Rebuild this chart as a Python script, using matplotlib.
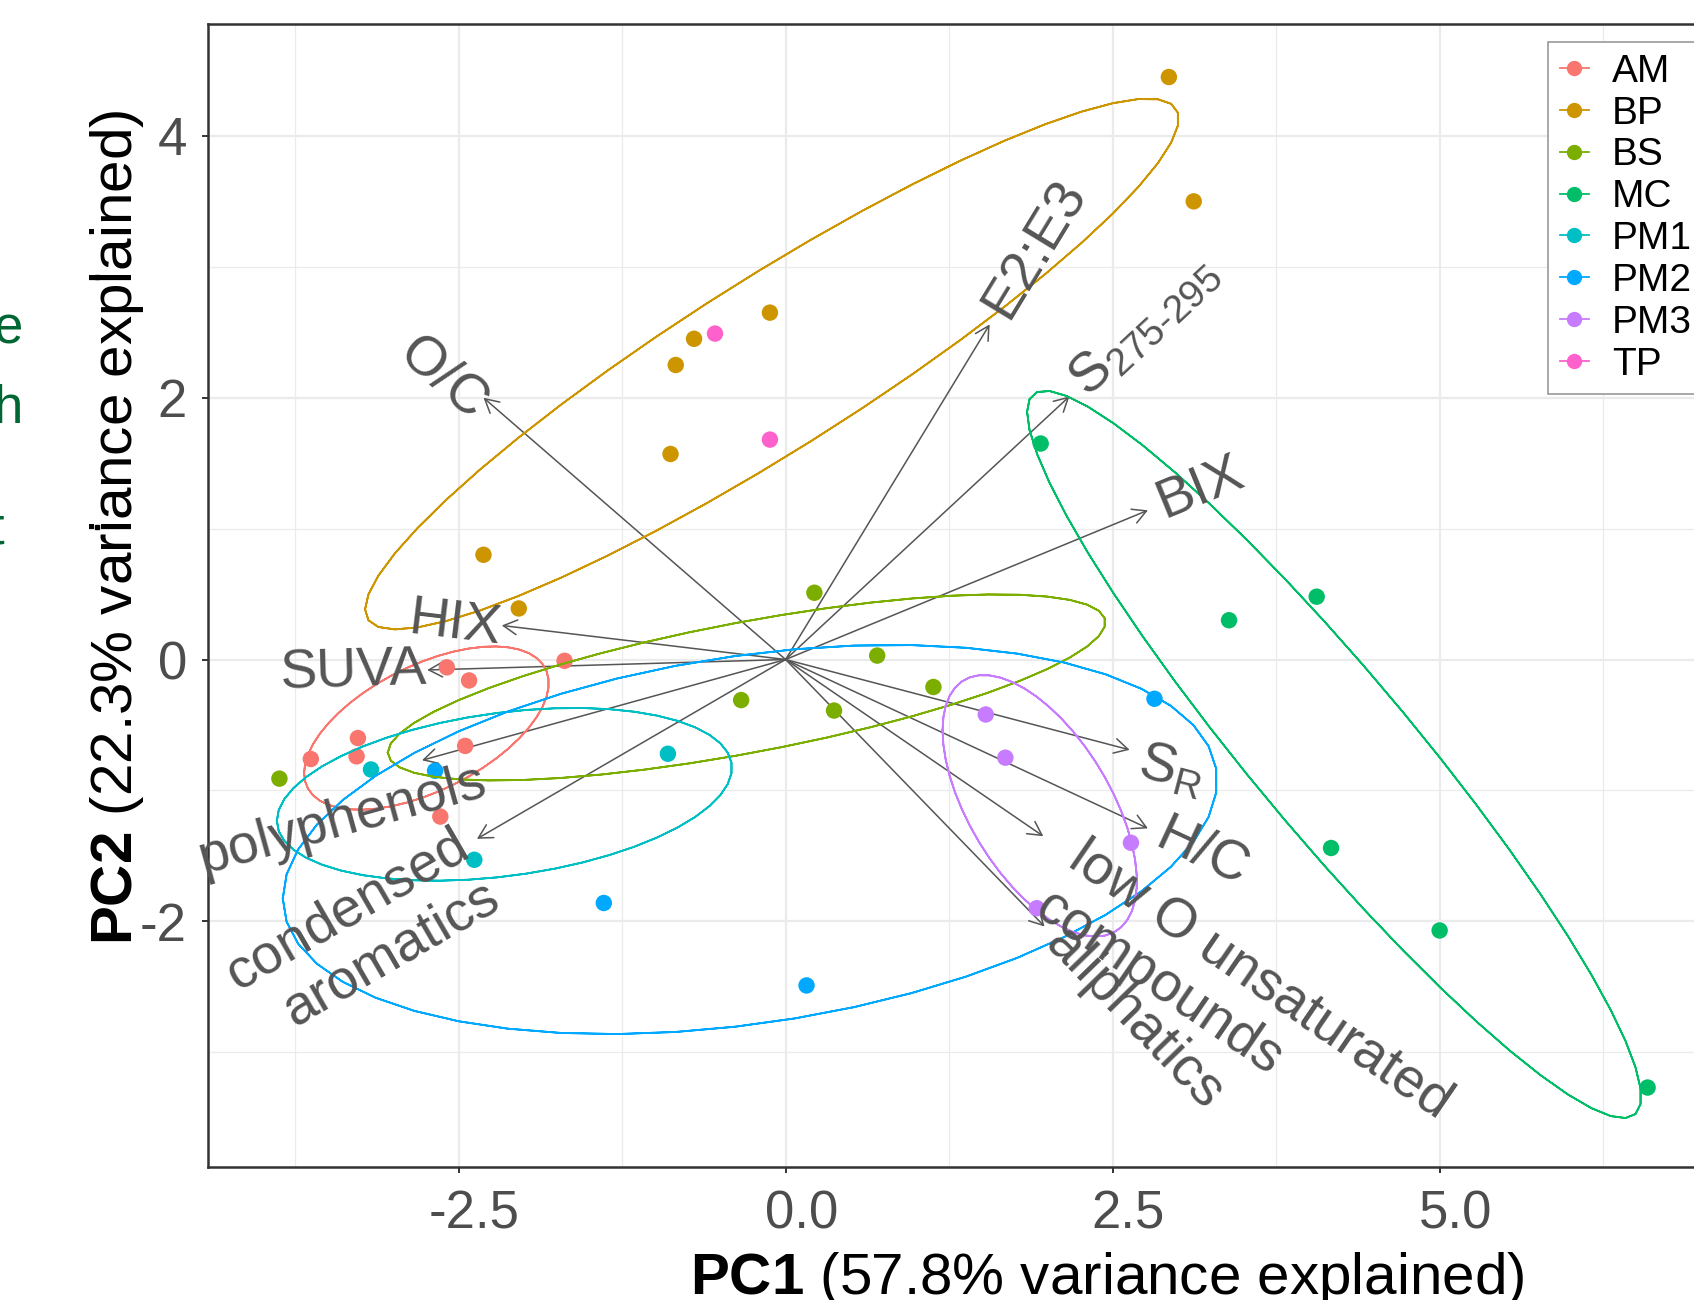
import numpy as np
import matplotlib
matplotlib.use("Agg")
import matplotlib.pyplot as plt
import matplotlib.transforms as mtransforms
from matplotlib.lines import Line2D

plt.rcParams['font.family'] = ['Liberation Sans', 'DejaVu Sans']
plt.rcParams['mathtext.fontset'] = 'custom'
plt.rcParams['mathtext.rm'] = 'Liberation Sans'
plt.rcParams['mathtext.bf'] = 'Liberation Sans:bold'
plt.rcParams['mathtext.it'] = 'Liberation Sans:italic'
plt.rcParams['axes.unicode_minus'] = False

# PCA scores by site
groups = ["AM", "BP", "BS", "MC", "PM1", "PM2", "PM3", "TP"]
colors = ["#F8766D", "#CD9600", "#7CAE00", "#00BE67", "#00BFC4", "#00A9FF", "#C77CFF", "#FF61CC"]

am_pc1 = [-1.69, -2.59, -2.42, -3.27, -3.28, -3.63, -2.45, -2.64]
am_pc2 = [-0.01, -0.06, -0.16, -0.60, -0.74, -0.76, -0.66, -1.20]
bp_pc1 = [2.93, 3.12, -0.12, -0.70, -0.84, -0.88, -2.31, -2.04]
bp_pc2 = [4.45, 3.50, 2.65, 2.45, 2.25, 1.57, 0.80, 0.39]
bs_pc1 = [0.22, 0.70, 1.13, -0.34, 0.37, -3.87]
bs_pc2 = [0.51, 0.03, -0.21, -0.31, -0.39, -0.91]
mc_pc1 = [1.95, 4.06, 3.39, 4.17, 5.00, 6.59]
mc_pc2 = [1.65, 0.48, 0.30, -1.44, -2.07, -3.27]
pm1_pc1 = [-3.17, -0.90, -2.38]
pm1_pc2 = [-0.84, -0.72, -1.53]
pm2_pc1 = [-2.68, -1.39, 0.16, 2.82]
pm2_pc2 = [-0.85, -1.86, -2.49, -0.30]
pm3_pc1 = [1.53, 1.68, 2.64, 1.92]
pm3_pc2 = [-0.42, -0.75, -1.40, -1.90]
tp_pc1 = [-0.54, -0.12]
tp_pc2 = [2.49, 1.68]

pc1 = [am_pc1, bp_pc1, bs_pc1, mc_pc1, pm1_pc1, pm2_pc1, pm3_pc1, tp_pc1]
pc2 = [am_pc2, bp_pc2, bs_pc2, mc_pc2, pm1_pc2, pm2_pc2, pm3_pc2, tp_pc2]

# variable loadings (arrow tips)
var_names = ["O/C", "E2:E3", r"S$_{\mathregular{275\text{-}295}}$", "BIX", "HIX", "SUVA",
             "polyphenols", "condensed\naromatics", r"S$_{\mathregular{R}}$", "H/C",
             "low O unsaturated\ncompounds", "aliphatics"]
var_pc1 = [-2.31, 1.56, 2.17, 2.77, -2.17, -2.74, -2.78, -2.36, 2.63, 2.77, 1.97, 1.98]
var_pc2 = [2.00, 2.56, 2.01, 1.14, 0.26, -0.08, -0.77, -1.37, -0.69, -1.29, -1.35, -2.04]
# hand nudges of a few labels (points, along text / downwards)
nudge_along = [4, 0, 0, 0, 0, 0, 40, -8, 0, 0, 16, 0]
nudge_down = [9, 0, 0, 0, 3, 0, 26, 0, 7, 0, 0, 0]

ellipse_prob = 0.68
label_size = 40

W, H = 1694, 1300
fig = plt.figure(figsize=(W / 100, H / 100), dpi=100)
# panel runs past the right edge of the crop
ax = fig.add_axes([208 / W, (H - 1167) / H, (2006 - 208) / W, (1167 - 24) / H])
ax.set_xlim(-4.416, 9.33)
ax.set_ylim(-3.877, 4.855)

# grid like theme_bw
ax.set_xticks([-2.5, 0, 2.5, 5.0], ["-2.5", "0.0", "2.5", "5.0"])
ax.set_xticks([-3.75, -1.25, 1.25, 3.75, 6.25], minor=True)
ax.set_yticks([-2, 0, 2, 4], ["-2", "0", "2", "4"])
ax.set_yticks([-3, -1, 1, 3], minor=True)
ax.grid(which='major', color='#EBEBEB', lw=1.6)
ax.grid(which='minor', color='#EBEBEB', lw=0.9)
ax.set_axisbelow(True)
ax.tick_params(which='minor', length=0)
ax.tick_params(which='major', length=4.3, width=1.4, color='#333333',
               labelsize=38, labelcolor='#4D4D4D')
ax.tick_params(axis='x', pad=12)
ax.tick_params(axis='y', pad=11)
for sp in ax.spines.values():
    sp.set_color('#333333')
    sp.set_linewidth(1.8)

off = mtransforms.ScaledTranslation(0.157, 0, fig.dpi_scale_trans)
for lab in ax.get_xticklabels():
    lab.set_transform(lab.get_transform() + off)

# arrows
for x, y in zip(var_pc1, var_pc2):
    ax.annotate("", xy=(x, y), xytext=(0, 0),
                arrowprops=dict(arrowstyle="->,head_length=0.7,head_width=0.38",
                                color='#555555', lw=1.1, shrinkA=0, shrinkB=0,
                                mutation_scale=14), zorder=2)

# points
for g, c, xs, ys in zip(groups, colors, pc1, pc2):
    ax.scatter(xs, ys, s=140, color=c, edgecolors='none', zorder=3)

# normal data ellipses (as ggbiplot)
theta = np.concatenate([np.linspace(-np.pi, np.pi, 50), np.linspace(np.pi, -np.pi, 50)])
circle = np.column_stack([np.cos(theta), np.sin(theta)])
ed = np.sqrt(-2 * np.log(1 - ellipse_prob))
for c, xs, ys in zip(colors, pc1, pc2):
    if len(xs) < 3:
        continue
    sigma = np.cov(np.vstack([xs, ys]))
    R = np.linalg.cholesky(sigma).T
    ell = circle @ R * ed + np.array([np.mean(xs), np.mean(ys)])
    ax.plot(ell[:, 0], ell[:, 1], color=c, lw=1.3, zorder=4)

# variable labels, rotated along their arrows
for name, x, y, na, nd in zip(var_names, var_pc1, var_pc2, nudge_along, nudge_down):
    a = np.arctan(y / x)
    ha = 'left' if x > 0 else 'right'
    nlines = name.count("\n") + 1
    along = na + (9 if x > 0 else 0)
    down = nd + 0.5 * (nlines - 1) * 1.2 * label_size * 0.8
    dx = along * np.cos(a) + down * np.sin(a)
    dy = along * np.sin(a) - down * np.cos(a)
    tr = ax.transData + mtransforms.ScaledTranslation(dx / 72, dy / 72, fig.dpi_scale_trans)
    ax.text(x, y, name, rotation=np.degrees(a), rotation_mode='anchor', ha=ha, va='center',
            multialignment=ha, fontsize=label_size, color='#555555', linespacing=1.2,
            transform=tr, zorder=5)

ax.set_xlabel(r"$\bf{PC1}$ (57.8% variance explained)", fontsize=42)
ax.xaxis.set_label_coords(0.5, -0.073)
ax.set_ylabel(r"$\bf{PC2}$ (22.3% variance explained)", fontsize=42, va='center')
ax.yaxis.set_label_coords(-0.0506, 0.56)

handles = [Line2D([], [], color=c, marker='o', markersize=10, lw=1.3) for c in colors]
leg = fig.legend(handles, groups, loc='upper left', bbox_to_anchor=(1548 / W, 1 - 42 / H),
                 bbox_transform=fig.transFigure, fontsize=28, frameon=True, fancybox=False,
                 edgecolor='#999999', framealpha=1, borderpad=0.3, labelspacing=0.15,
                 handlelength=0.75, handletextpad=0.6, borderaxespad=0)
leg.get_frame().set_linewidth(1.2)

# bits of the neighbouring panel cut off at the left edge
for ch, xr, yb in [("e", 23, 343), ("h", 23, 423), ("t", 3.5, 543)]:
    fig.text(xr / W, 1 - yb / H, ch, ha='right', va='baseline', fontsize=38, color='#006633')
for yb in [277, 527]:
    fig.add_artist(Line2D([97 / W], [1 - yb / H], marker='s', markersize=3.5,
                          color='black', transform=fig.transFigure))

fig.savefig("out.png", dpi=100)
